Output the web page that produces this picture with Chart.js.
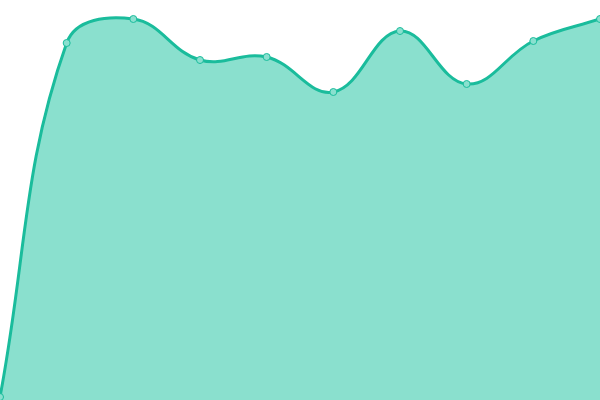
<!DOCTYPE html>
<html>
<head>
<meta charset="utf-8">
<script src="https://cdn.jsdelivr.net/npm/chart.js@4"></script>
<style>
  html, body { margin: 0; padding: 0; background: #fff; }
  #wrap { width: 600px; height: 400px; }
</style>
</head>
<body>
<div id="wrap"><canvas id="myAreaChart"></canvas></div>
<script>
// categories (no visible labels in the picture)
const labels = ['1', '2', '3', '4', '5', '6', '7', '8', '9', '10'];
// series values
const values = [3, 357, 381, 340, 343, 308, 369, 316, 359, 381];
const yMin = 0;
const yMax = 400;

const ctx = document.getElementById('myAreaChart').getContext('2d');
const areaChart = new Chart(ctx, {
    type: 'line',
    data: {
        labels: labels,
        datasets: [{
            data: values,
            fill: true,
            backgroundColor: 'rgba(22, 194, 158, 0.5)',
            borderColor: '#1abc9c',
            borderWidth: 3,
            tension: 0.4,
            pointRadius: 3.5,
            pointBorderWidth: 1,
            pointBackgroundColor: '#8ae0cf',
            pointBorderColor: '#1abc9c'
        }]
    },
    options: {
        responsive: true,
        maintainAspectRatio: false,
        animation: false,
        // the line runs edge to edge, no room kept for the points
        layout: { padding: 0, autoPadding: false },
        plugins: {
            legend: { display: false },
            tooltip: { enabled: false }
        },
        scales: {
            x: { display: false, offset: false },
            y: { display: false, min: yMin, max: yMax }
        }
    }
});
</script>
</body>
</html>
